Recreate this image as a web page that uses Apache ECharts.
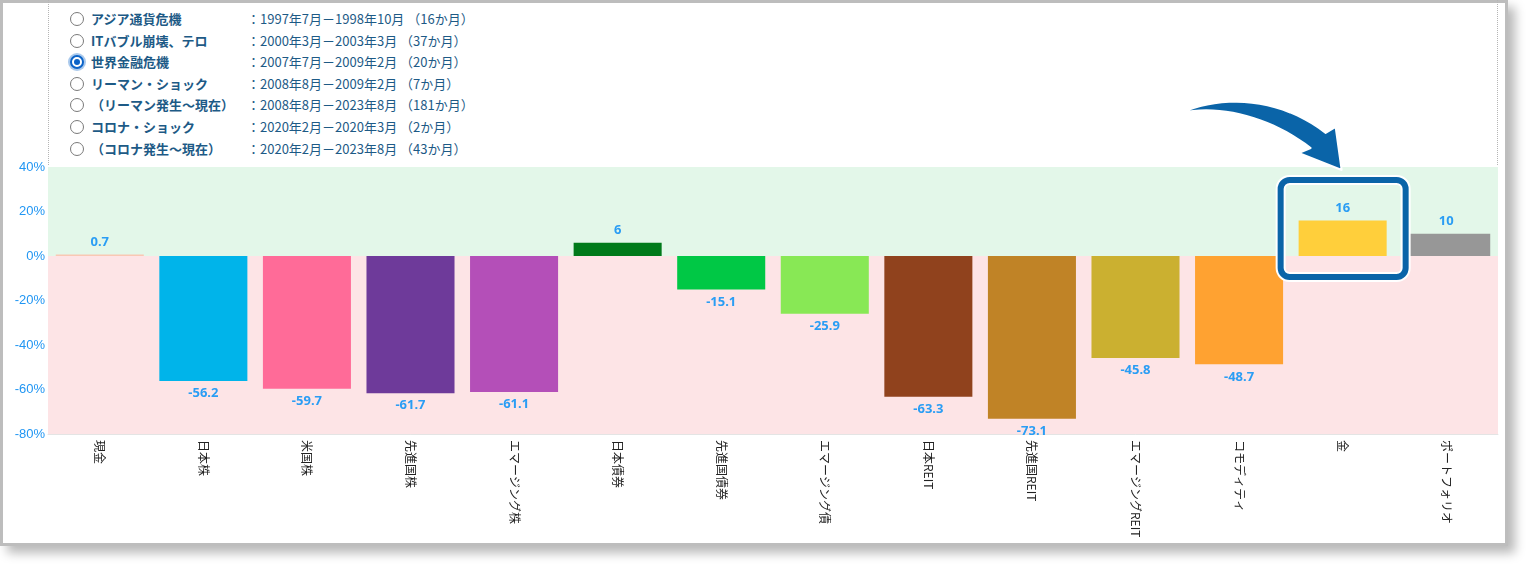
<!DOCTYPE html>
<html>
<head>
<meta charset="utf-8">
<script src="https://cdn.jsdelivr.net/npm/echarts@6/dist/echarts.min.js"></script>
<style>
  html, body { margin: 0; padding: 0; background: #fff; width: 1536px; height: 566px; overflow: hidden; }
  .card {
    position: absolute; left: 0; top: 0; width: 1508px; height: 546px; box-sizing: border-box;
    border: 3px solid #bdbdbd; background: #fff; box-shadow: 7px 7px 10px rgba(0,0,0,0.28);
  }
  .dots { position: absolute; top: 0; height: 165px; border-left: 1px dotted #b5b5b5; }
  .crisis {
    position: absolute; left: 0; font-family: "Noto Sans CJK JP", sans-serif; font-size: 13px;
    color: #1d5a86; line-height: 16px; white-space: nowrap;
  }
  .crisis .radio {
    position: absolute; left: 70px; top: 1px; width: 14px; height: 14px; box-sizing: border-box;
    border: 1px solid #7a7a7a; border-radius: 50%; background: #fff;
  }
  .crisis .radio.on {
    border: 2px solid #0b63c8; box-shadow: 0 0 0 2px rgba(11,99,200,0.35);
  }
  .crisis .radio.on::after {
    content: ""; position: absolute; left: 2px; top: 2px; width: 6px; height: 6px; border-radius: 50%; background: #0b63c8;
  }
  .crisis .name { position: absolute; left: 91px; font-weight: bold; }
  .crisis .colon { position: absolute; left: 247px; }
  .crisis .period { position: absolute; left: 260px; }
  #chart { position: absolute; left: 0; top: 0; width: 1536px; height: 566px; }
</style>
</head>
<body>
<div class="card"></div>
<div class="dots" style="left:48px"></div>
<div class="dots" style="left:1497px"></div>
<div id="list"></div>
<div id="chart"></div>
<script>
  // 期間の選択肢（画面上部）
  var crisisNames = ['アジア通貨危機', 'ITバブル崩壊、テロ', '世界金融危機', 'リーマン・ショック', '（リーマン発生～現在）', 'コロナ・ショック', '（コロナ発生～現在）'];
  var crisisPeriods = ['1997年7月－1998年10月 （16か月）', '2000年3月－2003年3月 （37か月）', '2007年7月－2009年2月 （20か月）', '2008年8月－2009年2月 （7か月）', '2008年8月－2023年8月 （181か月）', '2020年2月－2020年3月 （2か月）', '2020年2月－2023年8月 （43か月）'];
  var selectedCrisis = 2;

  // 資産ごとの騰落率（%）
  var assets = ['現金', '日本株', '米国株', '先進国株', 'エマージング株', '日本債券', '先進国債券', 'エマージング債', '日本REIT', '先進国REIT', 'エマージングREIT', 'コモディティ', '金', 'ポートフォリオ'];
  var returns = [0.7, -56.2, -59.7, -61.7, -61.1, 6, -15.1, -25.9, -63.3, -73.1, -45.8, -48.7, 16, 10];
  var assetColors = ['#f9c8b4', '#00b4ea', '#ff6b98', '#6e3a9a', '#b44fb8', '#007a1a', '#00c845', '#88e855', '#90421d', '#c08326', '#cbb030', '#ffa231', '#ffcf3b', '#979797'];
  var yTicks = { min: -80, max: 40, interval: 20 };

  var list = document.getElementById('list');
  crisisNames.forEach(function (name, i) {
    var row = document.createElement('div');
    row.className = 'crisis';
    row.style.top = (11 + i * 21.6) + 'px';
    row.innerHTML = '<span class="radio' + (i === selectedCrisis ? ' on' : '') + '"></span>' +
      '<span class="name">' + name + '</span><span class="colon">：</span><span class="period">' + crisisPeriods[i] + '</span>';
    list.appendChild(row);
  });

  var chart = echarts.init(document.getElementById('chart'));

  var option = {
    animation: false,
    grid: { left: 48, right: 38, top: 167, bottom: 132 },
    xAxis: {
      type: 'category',
      data: assets,
      axisLine: { onZero: false, lineStyle: { color: '#e4e4e4' } },
      axisTick: { show: false },
      axisLabel: {
        rotate: -90,
        interval: 0,
        margin: 6,
        color: '#222',
        fontSize: 12,
        fontFamily: 'Noto Sans CJK JP'
      }
    },
    yAxis: {
      type: 'value',
      min: yTicks.min,
      max: yTicks.max,
      interval: yTicks.interval,
      axisLabel: {
        formatter: '{value}%',
        color: '#2196f3',
        fontSize: 13,
        margin: 3,
        fontFamily: 'Liberation Sans'
      },
      splitLine: { lineStyle: { color: 'rgba(0,0,0,0.06)', type: 'dashed' } }
    },
    series: [
      {
        type: 'bar',
        barWidth: '85%',
        data: returns.map(function (v, i) {
          return {
            value: v,
            itemStyle: { color: assetColors[i] },
            label: { position: v < 0 ? 'bottom' : 'top' }
          };
        }),
        label: {
          show: true,
          distance: 6,
          color: '#2a9df4',
          fontSize: 13,
          fontWeight: 'bold',
          fontFamily: 'Noto Sans'
        },
        markArea: {
          silent: true,
          data: [
            [{ yAxis: 0, itemStyle: { color: '#e3f7e9' } }, { yAxis: 40 }],
            [{ yAxis: -80, itemStyle: { color: '#fde4e6' } }, { yAxis: 0 }]
          ]
        }
      }
    ]
  };
  chart.setOption(option);

  // 曲線を点列にする（矢印の輪郭用）
  function cubic(p0, p1, p2, p3, n) {
    var pts = [];
    for (var k = 1; k <= n; k++) {
      var t = k / n, u = 1 - t;
      pts.push([
        u * u * u * p0[0] + 3 * u * u * t * p1[0] + 3 * u * t * t * p2[0] + t * t * t * p3[0],
        u * u * u * p0[1] + 3 * u * u * t * p1[1] + 3 * u * t * t * p2[1] + t * t * t * p3[1]
      ]);
    }
    return pts;
  }

  // 「金」を強調する枠と矢印
  var zero = chart.convertToPixel({ xAxisIndex: 0, yAxisIndex: 0 }, ['金', 0]);
  var top40 = chart.convertToPixel({ xAxisIndex: 0, yAxisIndex: 0 }, ['金', 40]);
  var cx = zero[0];
  var boxTop = top40[1] + 13;
  var boxH = zero[1] + 21 - boxTop;

  var tail = [-161, -57];
  var arrowPts = [tail]
    .concat(cubic(tail, [-120, -76], [-60, -72], [-16, -37], 20))
    .concat([[-6, -43], [0, 0], [-43, -17], [-31, -22]])
    .concat(cubic([-31, -22], [-70, -52], [-120, -66], tail, 20));

  chart.setOption({
    graphic: [
      {
        type: 'rect', z: 100,
        shape: { x: cx - 62, y: boxTop, width: 125, height: boxH, r: 9 },
        style: { fill: 'none', stroke: '#fff', lineWidth: 10 }
      },
      {
        type: 'rect', z: 101,
        shape: { x: cx - 62, y: boxTop, width: 125, height: boxH, r: 9 },
        style: { fill: 'none', stroke: '#0a64a8', lineWidth: 6 }
      },
      {
        type: 'polygon', z: 102,
        x: cx - 1, y: boxTop - 10,
        shape: { points: arrowPts },
        style: { fill: '#0a64a8', stroke: '#fff', lineWidth: 2, lineJoin: 'round' }
      }
    ]
  });
</script>
</body>
</html>
